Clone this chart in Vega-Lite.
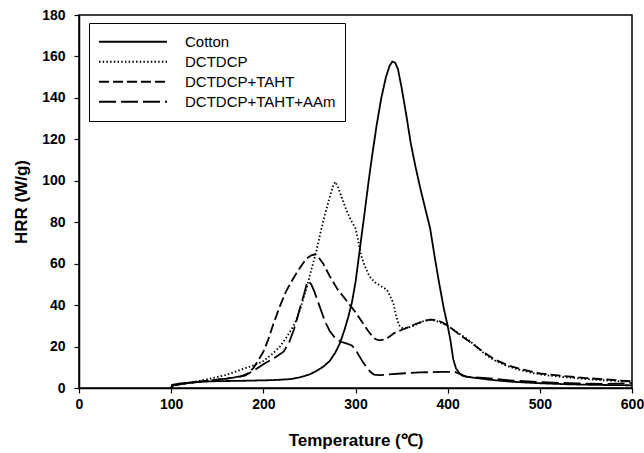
{
  "$schema": "https://vega.github.io/schema/vega-lite/v6.json",
  "width": 553,
  "height": 373,
  "autosize": {"type": "none"},
  "padding": {"left": 79, "top": 15, "right": 12, "bottom": 65},
  "background": "white",
  "config": {
    "font": "Liberation Sans",
    "view": {"stroke": "black", "strokeWidth": 1.5},
    "axis": {
      "grid": false,
      "domainColor": "black",
      "domainWidth": 1.5,
      "tickColor": "black",
      "tickWidth": 1.2,
      "tickSize": 5,
      "labelColor": "black",
      "labelFont": "Liberation Sans",
      "labelFontSize": 14,
      "labelFontWeight": "bold",
      "titleColor": "black",
      "titleFont": "Liberation Sans",
      "titleFontSize": 17,
      "titleFontWeight": "bold"
    },
    "legend": {
      "orient": "none",
      "legendX": 10,
      "legendY": 8,
      "strokeColor": "black",
      "fillColor": "white",
      "padding": 9,
      "cornerRadius": 0,
      "labelFont": "Liberation Sans",
      "labelFontSize": 15,
      "labelColor": "black",
      "labelOffset": 17,
      "symbolType": "stroke",
      "symbolSize": 4624,
      "symbolStrokeWidth": 1.8,
      "symbolStrokeColor": "black",
      "clipHeight": 19.5,
      "rowPadding": 0
    }
  },
  "data": {
    "values": [
      {"s": "Cotton", "t": 100, "h": 0},
      {"s": "Cotton", "t": 101, "h": 1.5},
      {"s": "Cotton", "t": 110, "h": 2.2},
      {"s": "Cotton", "t": 130, "h": 3},
      {"s": "Cotton", "t": 150, "h": 3.3},
      {"s": "Cotton", "t": 180, "h": 3.5},
      {"s": "Cotton", "t": 210, "h": 3.8},
      {"s": "Cotton", "t": 230, "h": 4.3},
      {"s": "Cotton", "t": 240, "h": 5.2},
      {"s": "Cotton", "t": 250, "h": 6.5},
      {"s": "Cotton", "t": 258, "h": 8.3},
      {"s": "Cotton", "t": 265, "h": 10.3},
      {"s": "Cotton", "t": 272, "h": 13},
      {"s": "Cotton", "t": 278, "h": 17},
      {"s": "Cotton", "t": 283, "h": 21.5},
      {"s": "Cotton", "t": 288, "h": 28},
      {"s": "Cotton", "t": 292, "h": 34},
      {"s": "Cotton", "t": 296, "h": 41},
      {"s": "Cotton", "t": 300, "h": 51},
      {"s": "Cotton", "t": 305, "h": 68},
      {"s": "Cotton", "t": 310, "h": 85},
      {"s": "Cotton", "t": 314, "h": 99},
      {"s": "Cotton", "t": 318, "h": 112},
      {"s": "Cotton", "t": 323, "h": 127},
      {"s": "Cotton", "t": 328, "h": 140},
      {"s": "Cotton", "t": 333, "h": 150},
      {"s": "Cotton", "t": 337, "h": 155.5},
      {"s": "Cotton", "t": 340, "h": 157.5},
      {"s": "Cotton", "t": 343, "h": 157},
      {"s": "Cotton", "t": 346, "h": 154},
      {"s": "Cotton", "t": 350, "h": 145},
      {"s": "Cotton", "t": 355, "h": 132},
      {"s": "Cotton", "t": 360, "h": 118},
      {"s": "Cotton", "t": 365, "h": 107},
      {"s": "Cotton", "t": 370, "h": 97},
      {"s": "Cotton", "t": 376, "h": 86},
      {"s": "Cotton", "t": 381, "h": 77},
      {"s": "Cotton", "t": 386, "h": 63},
      {"s": "Cotton", "t": 391, "h": 50},
      {"s": "Cotton", "t": 396, "h": 38},
      {"s": "Cotton", "t": 400, "h": 30},
      {"s": "Cotton", "t": 403, "h": 23},
      {"s": "Cotton", "t": 406, "h": 14},
      {"s": "Cotton", "t": 409, "h": 9.5},
      {"s": "Cotton", "t": 413, "h": 7},
      {"s": "Cotton", "t": 418, "h": 5.8},
      {"s": "Cotton", "t": 424, "h": 5.2},
      {"s": "Cotton", "t": 435, "h": 4.6},
      {"s": "Cotton", "t": 450, "h": 3.8},
      {"s": "Cotton", "t": 470, "h": 3},
      {"s": "Cotton", "t": 500, "h": 2.3},
      {"s": "Cotton", "t": 530, "h": 1.8},
      {"s": "Cotton", "t": 560, "h": 1.5},
      {"s": "Cotton", "t": 600, "h": 1.3},

      {"s": "DCTDCP", "t": 100, "h": 0},
      {"s": "DCTDCP", "t": 102, "h": 1.3},
      {"s": "DCTDCP", "t": 120, "h": 2.6},
      {"s": "DCTDCP", "t": 140, "h": 4.3},
      {"s": "DCTDCP", "t": 160, "h": 6.3},
      {"s": "DCTDCP", "t": 180, "h": 9.5},
      {"s": "DCTDCP", "t": 190, "h": 11},
      {"s": "DCTDCP", "t": 200, "h": 13},
      {"s": "DCTDCP", "t": 210, "h": 16.5},
      {"s": "DCTDCP", "t": 218, "h": 20},
      {"s": "DCTDCP", "t": 226, "h": 25},
      {"s": "DCTDCP", "t": 234, "h": 31},
      {"s": "DCTDCP", "t": 240, "h": 38},
      {"s": "DCTDCP", "t": 244, "h": 44},
      {"s": "DCTDCP", "t": 248, "h": 50},
      {"s": "DCTDCP", "t": 252, "h": 57},
      {"s": "DCTDCP", "t": 257, "h": 65},
      {"s": "DCTDCP", "t": 262, "h": 75},
      {"s": "DCTDCP", "t": 267, "h": 84},
      {"s": "DCTDCP", "t": 272, "h": 92},
      {"s": "DCTDCP", "t": 276, "h": 98},
      {"s": "DCTDCP", "t": 278, "h": 99.5},
      {"s": "DCTDCP", "t": 281, "h": 97},
      {"s": "DCTDCP", "t": 285, "h": 92},
      {"s": "DCTDCP", "t": 290, "h": 86},
      {"s": "DCTDCP", "t": 295, "h": 81},
      {"s": "DCTDCP", "t": 300, "h": 77},
      {"s": "DCTDCP", "t": 303, "h": 71},
      {"s": "DCTDCP", "t": 306, "h": 64},
      {"s": "DCTDCP", "t": 310, "h": 59},
      {"s": "DCTDCP", "t": 315, "h": 54},
      {"s": "DCTDCP", "t": 321, "h": 51},
      {"s": "DCTDCP", "t": 328, "h": 49},
      {"s": "DCTDCP", "t": 334, "h": 47.5},
      {"s": "DCTDCP", "t": 338, "h": 44},
      {"s": "DCTDCP", "t": 341, "h": 41},
      {"s": "DCTDCP", "t": 344, "h": 35},
      {"s": "DCTDCP", "t": 347, "h": 30.5},
      {"s": "DCTDCP", "t": 350, "h": 29},
      {"s": "DCTDCP", "t": 356, "h": 29},
      {"s": "DCTDCP", "t": 363, "h": 30},
      {"s": "DCTDCP", "t": 372, "h": 32},
      {"s": "DCTDCP", "t": 381, "h": 33},
      {"s": "DCTDCP", "t": 390, "h": 32},
      {"s": "DCTDCP", "t": 400, "h": 30},
      {"s": "DCTDCP", "t": 410, "h": 27},
      {"s": "DCTDCP", "t": 420, "h": 24},
      {"s": "DCTDCP", "t": 430, "h": 20.5},
      {"s": "DCTDCP", "t": 440, "h": 16.5},
      {"s": "DCTDCP", "t": 450, "h": 13.5},
      {"s": "DCTDCP", "t": 465, "h": 10.5},
      {"s": "DCTDCP", "t": 480, "h": 8.5},
      {"s": "DCTDCP", "t": 495, "h": 7},
      {"s": "DCTDCP", "t": 510, "h": 6},
      {"s": "DCTDCP", "t": 525, "h": 5.3},
      {"s": "DCTDCP", "t": 545, "h": 4.5},
      {"s": "DCTDCP", "t": 570, "h": 3.7},
      {"s": "DCTDCP", "t": 600, "h": 3},

      {"s": "DCTDCP+TAHT", "t": 100, "h": 0},
      {"s": "DCTDCP+TAHT", "t": 102, "h": 1.3},
      {"s": "DCTDCP+TAHT", "t": 120, "h": 2.5},
      {"s": "DCTDCP+TAHT", "t": 140, "h": 3.5},
      {"s": "DCTDCP+TAHT", "t": 160, "h": 4.5},
      {"s": "DCTDCP+TAHT", "t": 175, "h": 5.5},
      {"s": "DCTDCP+TAHT", "t": 183, "h": 7},
      {"s": "DCTDCP+TAHT", "t": 189, "h": 9.5},
      {"s": "DCTDCP+TAHT", "t": 194, "h": 13},
      {"s": "DCTDCP+TAHT", "t": 200, "h": 17.5},
      {"s": "DCTDCP+TAHT", "t": 205, "h": 23},
      {"s": "DCTDCP+TAHT", "t": 211, "h": 31},
      {"s": "DCTDCP+TAHT", "t": 218, "h": 39.5},
      {"s": "DCTDCP+TAHT", "t": 224, "h": 46},
      {"s": "DCTDCP+TAHT", "t": 230, "h": 51},
      {"s": "DCTDCP+TAHT", "t": 236, "h": 55.5},
      {"s": "DCTDCP+TAHT", "t": 242, "h": 59.5},
      {"s": "DCTDCP+TAHT", "t": 247, "h": 62.5},
      {"s": "DCTDCP+TAHT", "t": 252, "h": 64},
      {"s": "DCTDCP+TAHT", "t": 256, "h": 64.5},
      {"s": "DCTDCP+TAHT", "t": 260, "h": 63},
      {"s": "DCTDCP+TAHT", "t": 265, "h": 60},
      {"s": "DCTDCP+TAHT", "t": 272, "h": 54},
      {"s": "DCTDCP+TAHT", "t": 280, "h": 48},
      {"s": "DCTDCP+TAHT", "t": 287, "h": 44},
      {"s": "DCTDCP+TAHT", "t": 294, "h": 40},
      {"s": "DCTDCP+TAHT", "t": 300, "h": 36.5},
      {"s": "DCTDCP+TAHT", "t": 307, "h": 32},
      {"s": "DCTDCP+TAHT", "t": 313, "h": 28},
      {"s": "DCTDCP+TAHT", "t": 318, "h": 25},
      {"s": "DCTDCP+TAHT", "t": 322, "h": 23.5},
      {"s": "DCTDCP+TAHT", "t": 326, "h": 23},
      {"s": "DCTDCP+TAHT", "t": 330, "h": 23.3},
      {"s": "DCTDCP+TAHT", "t": 336, "h": 24.5},
      {"s": "DCTDCP+TAHT", "t": 342, "h": 26.5},
      {"s": "DCTDCP+TAHT", "t": 350, "h": 28},
      {"s": "DCTDCP+TAHT", "t": 358, "h": 29.5},
      {"s": "DCTDCP+TAHT", "t": 366, "h": 31},
      {"s": "DCTDCP+TAHT", "t": 374, "h": 32.3},
      {"s": "DCTDCP+TAHT", "t": 381, "h": 33},
      {"s": "DCTDCP+TAHT", "t": 388, "h": 32.8},
      {"s": "DCTDCP+TAHT", "t": 395, "h": 31.5},
      {"s": "DCTDCP+TAHT", "t": 402, "h": 29.5},
      {"s": "DCTDCP+TAHT", "t": 412, "h": 26},
      {"s": "DCTDCP+TAHT", "t": 420, "h": 23.5},
      {"s": "DCTDCP+TAHT", "t": 428, "h": 21},
      {"s": "DCTDCP+TAHT", "t": 440, "h": 17},
      {"s": "DCTDCP+TAHT", "t": 450, "h": 14},
      {"s": "DCTDCP+TAHT", "t": 465, "h": 11},
      {"s": "DCTDCP+TAHT", "t": 480, "h": 9},
      {"s": "DCTDCP+TAHT", "t": 500, "h": 7},
      {"s": "DCTDCP+TAHT", "t": 525, "h": 5.8},
      {"s": "DCTDCP+TAHT", "t": 550, "h": 4.8},
      {"s": "DCTDCP+TAHT", "t": 575, "h": 4},
      {"s": "DCTDCP+TAHT", "t": 600, "h": 3.2},

      {"s": "DCTDCP+TAHT+AAm", "t": 100, "h": 0},
      {"s": "DCTDCP+TAHT+AAm", "t": 102, "h": 1.3},
      {"s": "DCTDCP+TAHT+AAm", "t": 130, "h": 3},
      {"s": "DCTDCP+TAHT+AAm", "t": 160, "h": 4.5},
      {"s": "DCTDCP+TAHT+AAm", "t": 180, "h": 6},
      {"s": "DCTDCP+TAHT+AAm", "t": 190, "h": 8.5},
      {"s": "DCTDCP+TAHT+AAm", "t": 200, "h": 11.5},
      {"s": "DCTDCP+TAHT+AAm", "t": 212, "h": 14.5},
      {"s": "DCTDCP+TAHT+AAm", "t": 222, "h": 17.5},
      {"s": "DCTDCP+TAHT+AAm", "t": 228, "h": 22},
      {"s": "DCTDCP+TAHT+AAm", "t": 233, "h": 28},
      {"s": "DCTDCP+TAHT+AAm", "t": 237, "h": 34},
      {"s": "DCTDCP+TAHT+AAm", "t": 240, "h": 39},
      {"s": "DCTDCP+TAHT+AAm", "t": 244, "h": 45},
      {"s": "DCTDCP+TAHT+AAm", "t": 247, "h": 50},
      {"s": "DCTDCP+TAHT+AAm", "t": 249, "h": 51.5},
      {"s": "DCTDCP+TAHT+AAm", "t": 252, "h": 50},
      {"s": "DCTDCP+TAHT+AAm", "t": 255, "h": 47},
      {"s": "DCTDCP+TAHT+AAm", "t": 259, "h": 42},
      {"s": "DCTDCP+TAHT+AAm", "t": 263, "h": 37},
      {"s": "DCTDCP+TAHT+AAm", "t": 267, "h": 32},
      {"s": "DCTDCP+TAHT+AAm", "t": 272, "h": 27.5},
      {"s": "DCTDCP+TAHT+AAm", "t": 278, "h": 24},
      {"s": "DCTDCP+TAHT+AAm", "t": 284, "h": 22.3},
      {"s": "DCTDCP+TAHT+AAm", "t": 290, "h": 21.5},
      {"s": "DCTDCP+TAHT+AAm", "t": 296, "h": 20.5},
      {"s": "DCTDCP+TAHT+AAm", "t": 300, "h": 18.5},
      {"s": "DCTDCP+TAHT+AAm", "t": 304, "h": 15.5},
      {"s": "DCTDCP+TAHT+AAm", "t": 308, "h": 12.5},
      {"s": "DCTDCP+TAHT+AAm", "t": 312, "h": 10},
      {"s": "DCTDCP+TAHT+AAm", "t": 316, "h": 7.8},
      {"s": "DCTDCP+TAHT+AAm", "t": 320, "h": 6.5},
      {"s": "DCTDCP+TAHT+AAm", "t": 326, "h": 6.2},
      {"s": "DCTDCP+TAHT+AAm", "t": 335, "h": 6.5},
      {"s": "DCTDCP+TAHT+AAm", "t": 350, "h": 7},
      {"s": "DCTDCP+TAHT+AAm", "t": 370, "h": 7.5},
      {"s": "DCTDCP+TAHT+AAm", "t": 395, "h": 7.8},
      {"s": "DCTDCP+TAHT+AAm", "t": 408, "h": 7.8},
      {"s": "DCTDCP+TAHT+AAm", "t": 412, "h": 7},
      {"s": "DCTDCP+TAHT+AAm", "t": 416, "h": 6},
      {"s": "DCTDCP+TAHT+AAm", "t": 420, "h": 5.5},
      {"s": "DCTDCP+TAHT+AAm", "t": 435, "h": 5},
      {"s": "DCTDCP+TAHT+AAm", "t": 450, "h": 4.5},
      {"s": "DCTDCP+TAHT+AAm", "t": 470, "h": 3.6},
      {"s": "DCTDCP+TAHT+AAm", "t": 500, "h": 2.8},
      {"s": "DCTDCP+TAHT+AAm", "t": 540, "h": 2.2},
      {"s": "DCTDCP+TAHT+AAm", "t": 570, "h": 2},
      {"s": "DCTDCP+TAHT+AAm", "t": 600, "h": 2.3}
    ]
  },
  "mark": {"type": "line", "color": "black", "strokeWidth": 1.8, "clip": true},
  "encoding": {
    "x": {
      "field": "t",
      "type": "quantitative",
      "scale": {"domain": [0, 600], "nice": false},
      "axis": {
        "title": "Temperature (℃)",
        "values": [0, 100, 200, 300, 400, 500, 600],
        "labelFlush": false,
        "labelPadding": 4,
        "titlePadding": 21
      }
    },
    "y": {
      "field": "h",
      "type": "quantitative",
      "scale": {"domain": [0, 180], "nice": false},
      "axis": {
        "title": "HRR (W/g)",
        "values": [0, 20, 40, 60, 80, 100, 120, 140, 160, 180],
        "labelPadding": 9,
        "titlePadding": 11
      }
    },
    "strokeDash": {
      "field": "s",
      "type": "nominal",
      "scale": {
        "domain": ["Cotton", "DCTDCP", "DCTDCP+TAHT", "DCTDCP+TAHT+AAm"],
        "range": [[1, 0], [1.5, 2.2], [10, 4], [17, 5]]
      },
      "legend": {"title": null}
    }
  }
}
